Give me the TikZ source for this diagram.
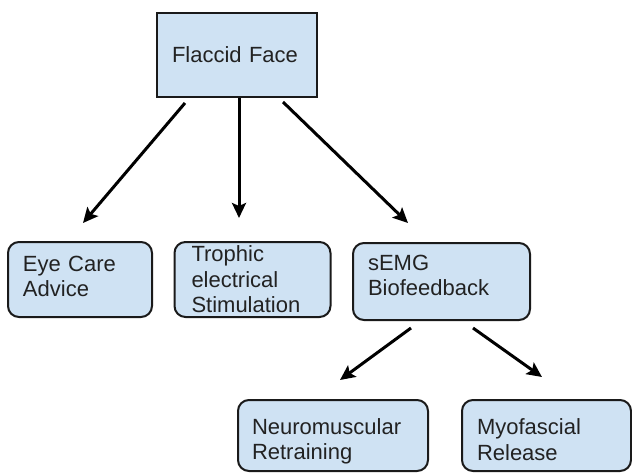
\documentclass[tikz,border=0pt]{standalone}
\usepackage{fontspec}
\setmainfont{Liberation Sans}
\usetikzlibrary{arrows.meta}
\definecolor{boxfill}{HTML}{CFE2F3}
\definecolor{boxline}{HTML}{1A1A1A}
\definecolor{txt}{HTML}{222222}
\tikzset{
  box/.style={draw=boxline, fill=boxfill, line width=2pt, inner xsep=15pt, inner ysep=0pt,
    align=left, text=txt, font=\fontsize{22}{25.5}\selectfont, anchor=center},
  rbox/.style={box, rounded corners=11pt},
  arr/.style={draw=black, line width=3pt, -{Stealth[length=15pt,width=14pt,inset=3pt]}}
}
\begin{document}
\begin{tikzpicture}[x=1pt,y=-1pt]
\useasboundingbox (0,0) rectangle (632,474);
\node[box, minimum width=160pt, minimum height=84pt, text width=130pt, inner xsep=13pt] (flaccid) at (237,55) {Flaccid Face};
\node[rbox, minimum width=144pt, minimum height=75pt, text width=114pt] (eye) at (80,279.5) {Eye Care\\Advice\par\vspace*{6pt}};
\node[rbox, minimum width=155pt, minimum height=75pt, text width=122pt, inner xsep=17pt] (troph) at (252.5,279.5) {Trophic\\electrical\\Stimulation};
\node[rbox, minimum width=177pt, minimum height=77pt, text width=147pt] (semg) at (441.5,281.5) {sEMG\\Biofeedback\par\vspace*{12pt}};
\node[rbox, minimum width=190pt, minimum height=71pt, text width=162pt, inner xsep=14pt] (neuro) at (333,435.5) {Neuromuscular\\Retraining\par\vspace*{-12pt}};
\node[rbox, minimum width=169pt, minimum height=71pt, text width=139pt] (myo) at (546.5,435.5) {Myofascial\\Release\par\vspace*{-8pt}};
\draw[arr] ([xshift=-52pt,yshift=-5pt]flaccid.south) -- ([xshift=3pt,yshift=18pt]eye.north);
\draw[arr] ([xshift=2pt]flaccid.south) -- ([xshift=-13.5pt,yshift=23pt]troph.north);
\draw[arr] ([xshift=46pt,yshift=-4pt]flaccid.south) -- ([xshift=-33.5pt,yshift=19pt]semg.north);
\draw[arr] ([xshift=-30.5pt,yshift=-7pt]semg.south) -- ([xshift=7pt,yshift=19pt]neuro.north);
\draw[arr] ([xshift=31.5pt,yshift=-7pt]semg.south) -- ([xshift=-4.5pt,yshift=22pt]myo.north);
\end{tikzpicture}
\end{document}
